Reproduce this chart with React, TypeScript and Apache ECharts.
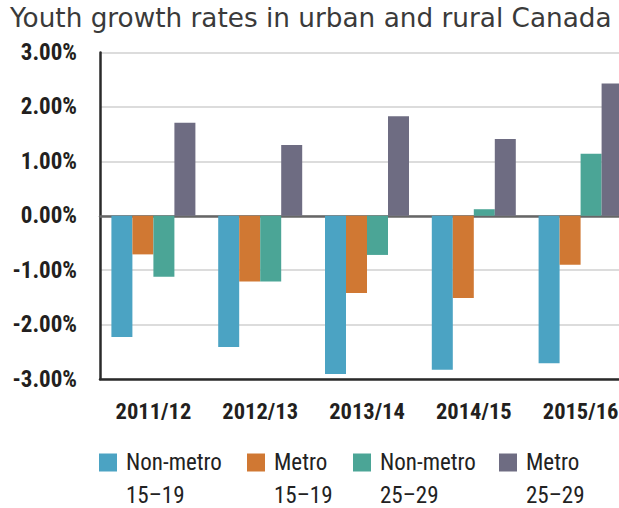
import React, { useEffect, useRef } from "react";
import * as echarts from "echarts";

const categories = ["2011/12", "2012/13", "2013/14", "2014/15", "2015/16"];
const seriesNames = ["Non-metro\n15–19", "Metro\n15–19", "Non-metro\n25–29", "Metro\n25–29"];
const nonMetro1519 = [-2.23, -2.41, -2.91, -2.83, -2.71];
const metro1519 = [-0.71, -1.21, -1.42, -1.51, -0.9];
const nonMetro2529 = [-1.12, -1.21, -0.72, 0.12, 1.14];
const metro2529 = [1.71, 1.3, 1.83, 1.41, 2.43];
const colors = ["#4BA3C3", "#D07833", "#4BA596", "#6E6C82"];
const legendLefts = [99, 247, 353, 499];

const COND = "'Roboto Condensed', 'Open Sans Condensed', sans-serif";

export default function App() {
  const ref = useRef<HTMLDivElement>(null);
  useEffect(() => {
    if (!ref.current) return;
    const chart = echarts.init(ref.current, null, { renderer: "svg" });
    const values = [nonMetro1519, metro1519, nonMetro2529, metro2529];
    chart.setOption({
      animation: false,
      backgroundColor: "#ffffff",
      title: {
        text: "Youth growth rates in urban and rural Canada",
        left: 10,
        top: 5,
        padding: 0,
        textStyle: {
          fontFamily: "'DejaVu Sans', sans-serif",
          fontSize: 26.3,
          fontWeight: "normal",
          color: "#3a3a3a",
        },
      },
      legend: seriesNames.map((name, i) => ({
        data: [name],
        left: legendLefts[i],
        top: 413,
        padding: 0,
        itemWidth: 18,
        itemHeight: 18,
        icon: "rect",
        formatter: (n: string) => "\n" + n,
        textStyle: {
          fontFamily: COND,
          fontSize: 23,
          color: "#222",
          lineHeight: 33,
          padding: [0, 0, 0, 4],
        },
      })),
      grid: {
        left: 100,
        top: 52.5,
        width: 534,
        height: 326.5,
        containLabel: false,
        outerBoundsMode: "none",
      },
      xAxis: [
        {
          type: "category",
          data: categories,
          position: "bottom",
          axisLine: { onZero: false, lineStyle: { color: "#2a2a2a", width: 2.5 } },
          axisTick: { show: false },
          axisLabel: {
            interval: 0,
            margin: 20,
            fontFamily: COND,
            fontWeight: "bold",
            fontSize: 22.5,
            color: "#231f20",
          },
        },
        {
          type: "category",
          data: categories,
          position: "top",
          axisLine: { show: true, onZero: true, lineStyle: { color: "#666", width: 2.5 } },
          axisTick: { show: false },
          axisLabel: { show: false },
        },
      ],
      yAxis: {
        type: "value",
        min: -3,
        max: 3,
        interval: 1,
        axisLine: { show: true, lineStyle: { color: "#2a2a2a", width: 2.5 } },
        axisTick: { show: false },
        splitLine: { lineStyle: { color: "#dcdcdc", width: 2 } },
        axisLabel: {
          margin: 23,
          formatter: (v: number) => v.toFixed(2) + "%",
          fontFamily: COND,
          fontWeight: "bold",
          fontSize: 23,
          color: "#231f20",
        },
      },
      series: seriesNames.map((name, i) => ({
        name,
        type: "bar",
        xAxisIndex: 0,
        data: values[i],
        barWidth: 21,
        barGap: "0%",
        itemStyle: { color: colors[i] },
      })),
    });
    return () => chart.dispose();
  }, []);
  return (
    <div
      ref={ref}
      style={{ position: "absolute", left: 0, top: 0, width: 619, height: 508 }}
    />
  );
}
